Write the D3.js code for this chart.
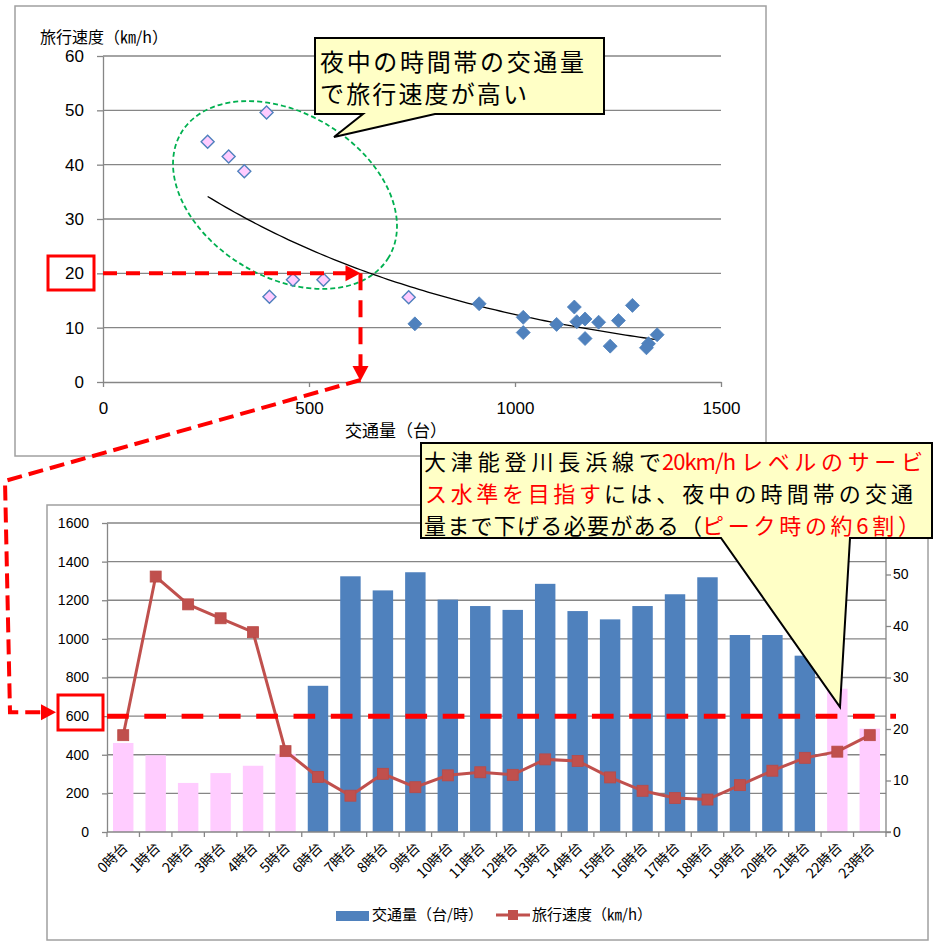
<!DOCTYPE html>
<html>
<head>
<meta charset="utf-8">
<script src="https://cdn.jsdelivr.net/npm/d3@7"></script>
<style>
  html, body { margin: 0; padding: 0; background: #fff; }
  svg { display: block; font-family: "Noto Sans CJK JP", "Noto Sans", sans-serif; }
</style>
</head>
<body>
<svg id="chart" width="942" height="941"></svg>
<script>
// Hourly data for 大津能登川長浜線
const hourLabels = ["0時台","1時台","2時台","3時台","4時台","5時台","6時台","7時台","8時台","9時台","10時台","11時台",
                    "12時台","13時台","14時台","15時台","16時台","17時台","18時台","19時台","20時台","21時台","22時台","23時台"];
const traffic = [461, 397, 254, 305, 343, 404, 757, 1324, 1251, 1345, 1203, 1170,
                 1150, 1285, 1144, 1101, 1170, 1231, 1319, 1020, 1020, 913, 742, 535];
const speed = [18.8, 49.6, 44.2, 41.5, 38.8, 15.7, 10.7, 7.05, 11.3, 8.7, 11.0, 11.6,
               11.1, 14.1, 13.8, 10.6, 8.0, 6.6, 6.3, 9.1, 11.9, 14.4, 15.6, 18.8];
const nightHours = [0, 1, 2, 3, 4, 5, 22, 23];

// Axis ticks
const scatterXTicks = [0, 500, 1000, 1500];
const scatterYTicks = [0, 10, 20, 30, 40, 50, 60];
const trafficTicks = [0, 200, 400, 600, 800, 1000, 1200, 1400, 1600];
const speedTicks = [0, 10, 20, 30, 40, 50];

// Target levels
const targetSpeed = 20;            // km/h
const targetTrafficAtSpeed = 625;  // 台, where the target speed meets the trend
const targetTraffic = 600;         // 台/時

const BLUE = "#4F81BD", PINK = "#FFCCFF", LINE = "#C0504D", GRID = "#868686", RED = "#FF0000";
const fmt = d3.format("d");

const svg = d3.select("#chart");
const isNight = i => nightHours.includes(i);

// ---------- Frames ----------
svg.append("rect").attr("x", 15).attr("y", 6).attr("width", 751).attr("height", 450)
  .attr("fill", "#fff").attr("stroke", "#A0A0A0").attr("stroke-width", 1.5);
svg.append("rect").attr("x", 47).attr("y", 505).attr("width", 881).attr("height", 435)
  .attr("fill", "#fff").attr("stroke", "#A0A0A0").attr("stroke-width", 1.5);

// ---------- Scatter: traffic vs speed ----------
const xS = d3.scaleLinear().domain([0, 1500]).range([103, 721]);
const yS = d3.scaleLinear().domain([0, 60]).range([382, 56]);
const gTop = svg.append("g");

gTop.append("g").selectAll("line").data(scatterYTicks.slice(1)).join("line")
  .attr("x1", xS(0)).attr("x2", xS(1500)).attr("y1", d => yS(d)).attr("y2", d => yS(d))
  .attr("stroke", GRID).attr("stroke-width", 1.3);

const axY = gTop.append("g").attr("transform", `translate(${xS(0)},0)`)
  .call(d3.axisLeft(yS).tickValues(scatterYTicks).tickFormat(fmt).tickSize(6).tickPadding(13).tickSizeOuter(0));
const axX = gTop.append("g").attr("transform", `translate(0,${yS(0)})`)
  .call(d3.axisBottom(xS).tickValues(scatterXTicks).tickFormat(fmt).tickSize(5).tickPadding(15).tickSizeOuter(0));
[axX, axY].forEach(a => {
  a.selectAll("path,line").attr("stroke", GRID).attr("stroke-width", 1.3);
  a.selectAll("text").attr("fill", "#000").attr("font-size", 17);
});

gTop.append("text").attr("x", 40).attr("y", 43).attr("font-size", 16).text("旅行速度（㎞/h）");
gTop.append("text").attr("x", 396).attr("y", 437).attr("font-size", 17).attr("text-anchor", "middle").text("交通量（台）");

// Night cluster highlight
gTop.append("ellipse").attr("cx", 285).attr("cy", 195).attr("rx", 121).attr("ry", 82)
  .attr("transform", "rotate(31,285,195)")
  .attr("fill", "none").attr("stroke", "#00B050").attr("stroke-width", 1.8).attr("stroke-dasharray", "5,3");

// Exponential trend line fitted to the hourly points
const mx = d3.mean(traffic), mly = d3.mean(speed, v => Math.log(v));
let sxy = 0, sxx = 0;
traffic.forEach((t, i) => { sxy += (t - mx) * (Math.log(speed[i]) - mly); sxx += (t - mx) * (t - mx); });
const b = sxy / sxx, a = Math.exp(mly - b * mx);
const [tMin, tMax] = d3.extent(traffic);
const trendPts = d3.range(0, 101).map(k => { const t = tMin + (tMax - tMin) * k / 100; return [t, a * Math.exp(b * t)]; });
gTop.append("path").datum(trendPts)
  .attr("d", d3.line().x(d => xS(d[0])).y(d => yS(d[1])))
  .attr("fill", "none").attr("stroke", "#000").attr("stroke-width", 1.3);

const diamond = r => `M0,${-r}L${r},0L0,${r}L${-r},0Z`;
gTop.append("g").selectAll("path").data(traffic.map((t, i) => ({ t, s: speed[i], i }))).join("path")
  .attr("transform", d => `translate(${xS(d.t)},${yS(d.s)})`)
  .attr("d", d => diamond(isNight(d.i) ? 6.5 : 7))
  .attr("fill", d => isNight(d.i) ? PINK : BLUE)
  .attr("stroke", BLUE).attr("stroke-width", d => isNight(d.i) ? 1.4 : 0.8);

// ---------- Hourly bars + speed line ----------
const xB = d3.scaleBand().domain(hourLabels).range([107, 886]).paddingInner(0.37).paddingOuter(0.185);
const yL = d3.scaleLinear().domain([0, 1600]).range([832, 523]);
const yR = d3.scaleLinear().domain([0, 60]).range([832, 523]);
const gBot = svg.append("g");

gBot.append("g").selectAll("line").data(trafficTicks.slice(1)).join("line")
  .attr("x1", 107).attr("x2", 886).attr("y1", d => yL(d)).attr("y2", d => yL(d))
  .attr("stroke", GRID).attr("stroke-width", 1.3);

gBot.append("g").selectAll("rect").data(traffic).join("rect")
  .attr("x", (d, i) => xB(hourLabels[i])).attr("width", xB.bandwidth())
  .attr("y", d => yL(d)).attr("height", d => yL(0) - yL(d))
  .attr("fill", (d, i) => isNight(i) ? PINK : BLUE);

const axL = gBot.append("g").attr("transform", "translate(107,0)")
  .call(d3.axisLeft(yL).tickValues(trafficTicks).tickFormat(fmt).tickSize(5).tickPadding(13).tickSizeOuter(0));
const axR = gBot.append("g").attr("transform", "translate(886,0)")
  .call(d3.axisRight(yR).tickValues(speedTicks).tickFormat(fmt).tickSize(5).tickPadding(2).tickSizeOuter(0));
axR.select("path").attr("d", `M5,${yR(60)}H0V${yR(0)}H5`);
[axL, axR].forEach(ax => {
  ax.selectAll("path,line").attr("stroke", GRID).attr("stroke-width", 1.3);
  ax.selectAll("text").attr("fill", "#000").attr("font-size", 14);
});

// Category axis with boundary ticks
const step = xB.step();
const x0 = xB(hourLabels[0]) + xB.bandwidth() / 2 - step / 2;
gBot.append("line").attr("x1", 107).attr("x2", 886).attr("y1", 832).attr("y2", 832)
  .attr("stroke", GRID).attr("stroke-width", 1.3);
gBot.append("g").selectAll("line").data(d3.range(hourLabels.length + 1)).join("line")
  .attr("x1", k => x0 + k * step).attr("x2", k => x0 + k * step)
  .attr("y1", 832).attr("y2", 837).attr("stroke", GRID).attr("stroke-width", 1.3);
gBot.append("g").selectAll("text").data(hourLabels).join("text")
  .attr("transform", d => `translate(${xB(d) + xB.bandwidth() / 2 + 2},${845}) rotate(-45)`)
  .attr("text-anchor", "end").attr("dy", "0.35em").attr("font-size", 14).text(d => d);

// Speed line
const speedPts = speed.map((s, i) => [xB(hourLabels[i]) + xB.bandwidth() / 2, yR(s)]);
gBot.append("path").datum(speedPts).attr("d", d3.line())
  .attr("fill", "none").attr("stroke", LINE).attr("stroke-width", 3);
gBot.append("g").selectAll("rect").data(speedPts).join("rect")
  .attr("x", d => d[0] - 5.5).attr("y", d => d[1] - 5.5).attr("width", 11).attr("height", 11)
  .attr("fill", LINE).attr("stroke", "#B94A47").attr("stroke-width", 0.8);

// Target traffic line
gBot.append("line").attr("x1", 107).attr("x2", 896).attr("y1", yL(targetTraffic)).attr("y2", yL(targetTraffic))
  .attr("stroke", RED).attr("stroke-width", 5).attr("stroke-dasharray", "21.7,15.6");

// Legend
const leg = gBot.append("g");
leg.append("rect").attr("x", 336).attr("y", 911).attr("width", 33).attr("height", 10).attr("fill", BLUE);
leg.append("text").attr("x", 372).attr("y", 920).attr("font-size", 15).text("交通量（台/時）");
leg.append("line").attr("x1", 496).attr("x2", 530).attr("y1", 915).attr("y2", 915).attr("stroke", LINE).attr("stroke-width", 3);
leg.append("rect").attr("x", 508).attr("y", 910).attr("width", 10).attr("height", 10).attr("fill", LINE);
leg.append("text").attr("x", 532).attr("y", 920).attr("font-size", 15).text("旅行速度（㎞/h）");

// ---------- Red guide arrows ----------
const ann = svg.append("g");
const tipX = xS(targetTrafficAtSpeed), tipY = yS(targetSpeed);
ann.append("line").attr("x1", xS(0)).attr("x2", tipX - 14).attr("y1", tipY).attr("y2", tipY)
  .attr("stroke", RED).attr("stroke-width", 4).attr("stroke-dasharray", "14,9");
ann.append("path").attr("d", `M${tipX},${tipY}L${tipX - 15},${tipY - 8}L${tipX - 15},${tipY + 8}Z`).attr("fill", RED);
ann.append("line").attr("x1", tipX).attr("x2", tipX).attr("y1", tipY).attr("y2", yS(0) - 14)
  .attr("stroke", RED).attr("stroke-width", 4).attr("stroke-dasharray", "17,10");
ann.append("path").attr("d", `M${tipX},${yS(0) - 1}L${tipX - 8},${yS(0) - 16}L${tipX + 8},${yS(0) - 16}Z`).attr("fill", RED);

const yT = yL(targetTraffic) - 4;
ann.append("path").attr("d", `M${tipX},${yS(0) - 2}L5,481L10,${yT}L42,${yT}`)
  .attr("fill", "none").attr("stroke", RED).attr("stroke-width", 4).attr("stroke-dasharray", "15,7");
ann.append("path").attr("d", `M56,${yT}L41,${yT - 8}L41,${yT + 8}Z`).attr("fill", RED);

ann.append("rect").attr("x", 48).attr("y", 256).attr("width", 46).attr("height", 34)
  .attr("fill", "none").attr("stroke", RED).attr("stroke-width", 3);
ann.append("rect").attr("x", 58).attr("y", 695).attr("width", 45).attr("height", 35)
  .attr("fill", "none").attr("stroke", RED).attr("stroke-width", 3);

// ---------- Callouts ----------
const CALLOUT_FILL = "#FFFFC6";
// each run: [text, colour, x start, x end (null = natural width), baseline]
function drawRuns(runs, size) {
  runs.forEach(([txt, col, xa, xb, y]) => {
    const t = svg.append("text").attr("x", xa).attr("y", y).attr("font-size", size).attr("fill", col).text(txt);
    if (xb !== null) t.attr("textLength", xb - xa).attr("lengthAdjust", "spacing");
  });
}

svg.append("path").attr("d", "M315,38H604V114H435L334,137L363,114H315Z")
  .attr("fill", CALLOUT_FILL).attr("stroke", "#000").attr("stroke-width", 2);
drawRuns([
  ["夜中の時間帯の交通量", "#000", 320, 584, 71],
  ["で旅行速度が高い", "#000", 320, 527, 103]
], 24);

svg.append("path").attr("d", "M421,443H932V538H850L840,707L721,538H421Z")
  .attr("fill", CALLOUT_FILL).attr("stroke", "#000").attr("stroke-width", 2);
drawRuns([
  ["大津能登川長浜線で", "#000", 424, 661, 470],
  ["20km/h", RED, 662, 736, 470],
  ["レベルのサービ", RED, 741, 923, 470],
  ["ス水準を目指す", RED, 425, 601, 502],
  ["には、夜中の時間帯の交通", "#000", 604, 913, 502],
  ["量まで下げる必要がある（", "#000", 424, 702, 534],
  ["ピーク時の約6割）", RED, 702, 920, 534]
], 22);
</script>
</body>
</html>
